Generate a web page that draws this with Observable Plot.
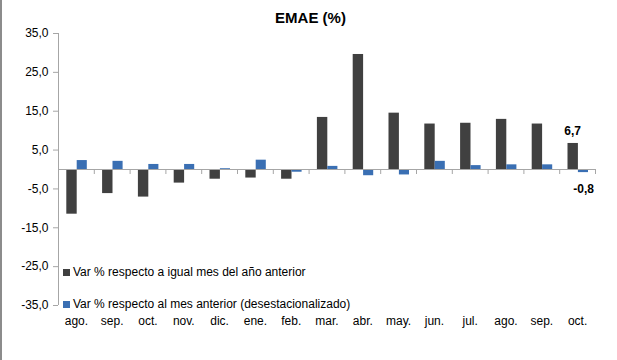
<!DOCTYPE html>
<html>
<head>
<meta charset="utf-8">
<script src="https://cdn.jsdelivr.net/npm/d3@7"></script>
<script src="https://cdn.jsdelivr.net/npm/@observablehq/plot@0.6"></script>
<style>
  html, body { margin: 0; padding: 0; background: #fff; }
  body { width: 617px; height: 360px; position: relative; overflow: hidden; font-family: "Liberation Sans", Arial, sans-serif; }
  #edge { position: absolute; left: 0; top: 0; width: 2px; height: 360px; background: #8c8c8c; }
  #title { height: 26px; text-align: center; font-weight: bold; font-size: 15px; line-height: 15px; padding-top: 10px; box-sizing: border-box; color: #000; padding-left: 4px; }
  #legend { position: absolute; left: 63px; top: 264px; font-size: 12px; color: #000; }
  .item { display: flex; align-items: center; height: 16px; }
  .item.second { margin-top: 16px; }
  .sw { width: 7px; height: 7px; margin-right: 3px; }
</style>
</head>
<body>
<div id="edge"></div>
<div id="title">EMAE (%)</div>
<div id="chart"></div>
<div id="legend"></div>
<script>
const months = ["ago.","sep.","oct.","nov.","dic.","ene.","feb.","mar.","abr.","may.","jun.","jul.","ago.","sep.","oct."];
const interanual = [-11.5,-6.2,-7.1,-3.5,-2.5,-2.2,-2.5,13.4,29.6,14.5,11.7,11.9,12.9,11.7,6.7];
const mensual = [2.3,2.1,1.3,1.3,0.2,2.4,-0.7,0.8,-1.6,-1.4,2.1,1.0,1.2,1.2,-0.8];
const yTicks = [35,25,15,5,-5,-15,-25,-35];
const seriesNames = ["Var % respecto a igual mes del año anterior","Var % respecto al mes anterior (desestacionalizado)"];
const colors = ["#404040","#3a6fb3"];

const idx = d3.range(months.length);
const W = 617, H = 334, ML = 58, MR = 22, MT = 7, MB = 55;
const bw = (W - ML - MR) / months.length;
const fmt = v => v.toFixed(1).replace(".", ",");
const last = idx.length - 1;

const chart = Plot.plot({
  width: W, height: H,
  marginLeft: ML, marginRight: MR, marginTop: MT, marginBottom: MB,
  style: {fontFamily: '"Liberation Sans", Arial, sans-serif', fontSize: "12px", color: "#000", background: "#fff"},
  x: {type: "band", domain: idx, padding: 0, round: false},
  y: {domain: [-35, 35]},
  marks: [
    Plot.ruleX([0], {x: d => d, dx: -bw/2, y1: -35, y2: 35, stroke: "#a6a6a6"}),
    Plot.barY(idx, {x: i => i, y: i => interanual[i], fill: colors[0], insetLeft: 8.3, insetRight: 17.1}),
    Plot.barY(idx, {x: i => i, y: i => mensual[i], fill: colors[1], insetLeft: 18.7, insetRight: 7}),
    Plot.ruleY([0], {stroke: "#a6a6a6"}),
    Plot.ruleX(idx, {x: i => i, dx: -bw/2, y1: 0, y2: 0, insetBottom: -5, stroke: "#a6a6a6"}),
    Plot.ruleX([last], {x: i => i, dx: bw/2, y1: 0, y2: 0, insetBottom: -5, stroke: "#a6a6a6"}),
    Plot.axisY({ticks: yTicks, tickFormat: fmt, tickSize: 5, tickPadding: 5, stroke: "#a6a6a6", fill: "#000", label: null, fontSize: 12}),
    Plot.axisX({tickFormat: i => months[i], tickSize: 0, tickPadding: 11, fill: "#000", label: null, fontSize: 12}),
    Plot.text([last], {x: i => i, y: i => interanual[i], text: i => fmt(interanual[i]), dx: -5, dy: -8, lineAnchor: "bottom", fontWeight: "bold", fontSize: 12, fill: "#000"}),
    Plot.text([last], {x: i => i, y: i => mensual[i], text: i => fmt(mensual[i]), dx: 6, dy: 12, lineAnchor: "top", fontWeight: "bold", fontSize: 12, fill: "#000"})
  ]
});
document.getElementById("chart").appendChild(chart);

const legend = document.getElementById("legend");
seriesNames.forEach((name, k) => {
  const item = document.createElement("div");
  item.className = "item" + (k ? " second" : "");
  const sw = document.createElement("div");
  sw.className = "sw";
  sw.style.background = colors[k];
  const t = document.createElement("span");
  t.textContent = name;
  item.appendChild(sw);
  item.appendChild(t);
  legend.appendChild(item);
});
</script>
</body>
</html>
